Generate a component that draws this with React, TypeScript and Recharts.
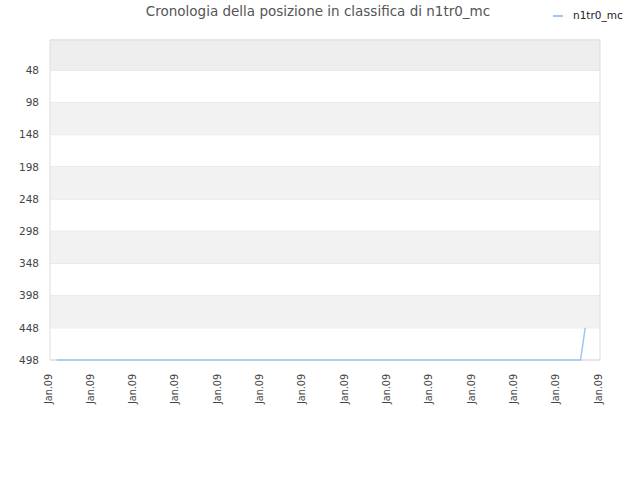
import React from "react";
import { LineChart, Line, XAxis, YAxis, CartesianGrid, ReferenceArea } from "recharts";

const title = "Cronologia della posizione in classifica di n1tr0_mc";
const seriesName = "n1tr0_mc";
const xTicks = [0, 100, 200, 300, 400, 500, 600, 700, 800, 900, 1000, 1100, 1200, 1300];
const xTickLabel = "Jan.09";
const yTicks = [48, 98, 148, 198, 248, 298, 348, 398, 448, 498];
const yDomain = [1, 498];
const pointX = [16, 1254, 1265];
const pointRank = [498, 498, 448];
const shadedBands = [
  [1, 48],
  [98, 148],
  [198, 248],
  [298, 348],
  [398, 448],
];

const data = pointX.map((x, i) => ({ x, rank: pointRank[i] }));

const FONT = "'DejaVu Sans', sans-serif";

const XTick = (props: any) => {
  const { x, y } = props;
  return (
    <text
      transform={`translate(${x - 2},${y + 6}) rotate(-90)`}
      textAnchor="end"
      dominantBaseline="central"
      fontSize={9.6}
      fontFamily={FONT}
      fill="#444"
    >
      {xTickLabel}
    </text>
  );
};

export default function App() {
  return (
    <div style={{ position: "absolute", left: 0, top: 0, width: 640, height: 480, background: "#fff" }}>
      <div
        style={{
          position: "absolute",
          left: 0,
          width: 636,
          top: 3,
          textAlign: "center",
          fontFamily: FONT,
          fontSize: 13.5,
          color: "#555",
        }}
      >
        {title}
      </div>
      <div style={{ position: "absolute", left: 553, top: 15, width: 10, height: 2, background: "#9dc6f0" }} />
      <div
        style={{
          position: "absolute",
          left: 573,
          top: 9,
          fontFamily: FONT,
          fontSize: 10.5,
          color: "#222",
        }}
      >
        {seriesName}
      </div>
      <LineChart width={640} height={480} data={data} margin={{ top: 40, right: 40, left: 0, bottom: 0 }}>
        {shadedBands.map(([a, b], i) => (
          <ReferenceArea
            key={i}
            y1={a}
            y2={b}
            fill={i === 0 ? "#eeeeee" : "#f2f2f2"}
            fillOpacity={1}
            stroke="none"
            ifOverflow="visible"
          />
        ))}
        <CartesianGrid vertical={false} stroke="#e0e0e0" strokeDasharray="" />
        <ReferenceArea y1={yDomain[0]} y2={yDomain[1]} fill="none" stroke="#dddddd" strokeWidth={1} />
        <XAxis
          dataKey="x"
          type="number"
          domain={[0, 1300]}
          ticks={xTicks}
          interval={0}
          height={120}
          axisLine={false}
          tickLine={false}
          tick={<XTick />}
        />
        <YAxis
          reversed
          type="number"
          domain={yDomain}
          ticks={yTicks}
          interval={0}
          width={50}
          axisLine={false}
          tickLine={false}
          tickMargin={5}
          tick={{ fontSize: 10.5, fontFamily: FONT, fill: "#444" }}
        />
        <Line
          type="linear"
          dataKey="rank"
          stroke="#9dc6f0"
          strokeWidth={1.5}
          dot={false}
          isAnimationActive={false}
        />
      </LineChart>
    </div>
  );
}
